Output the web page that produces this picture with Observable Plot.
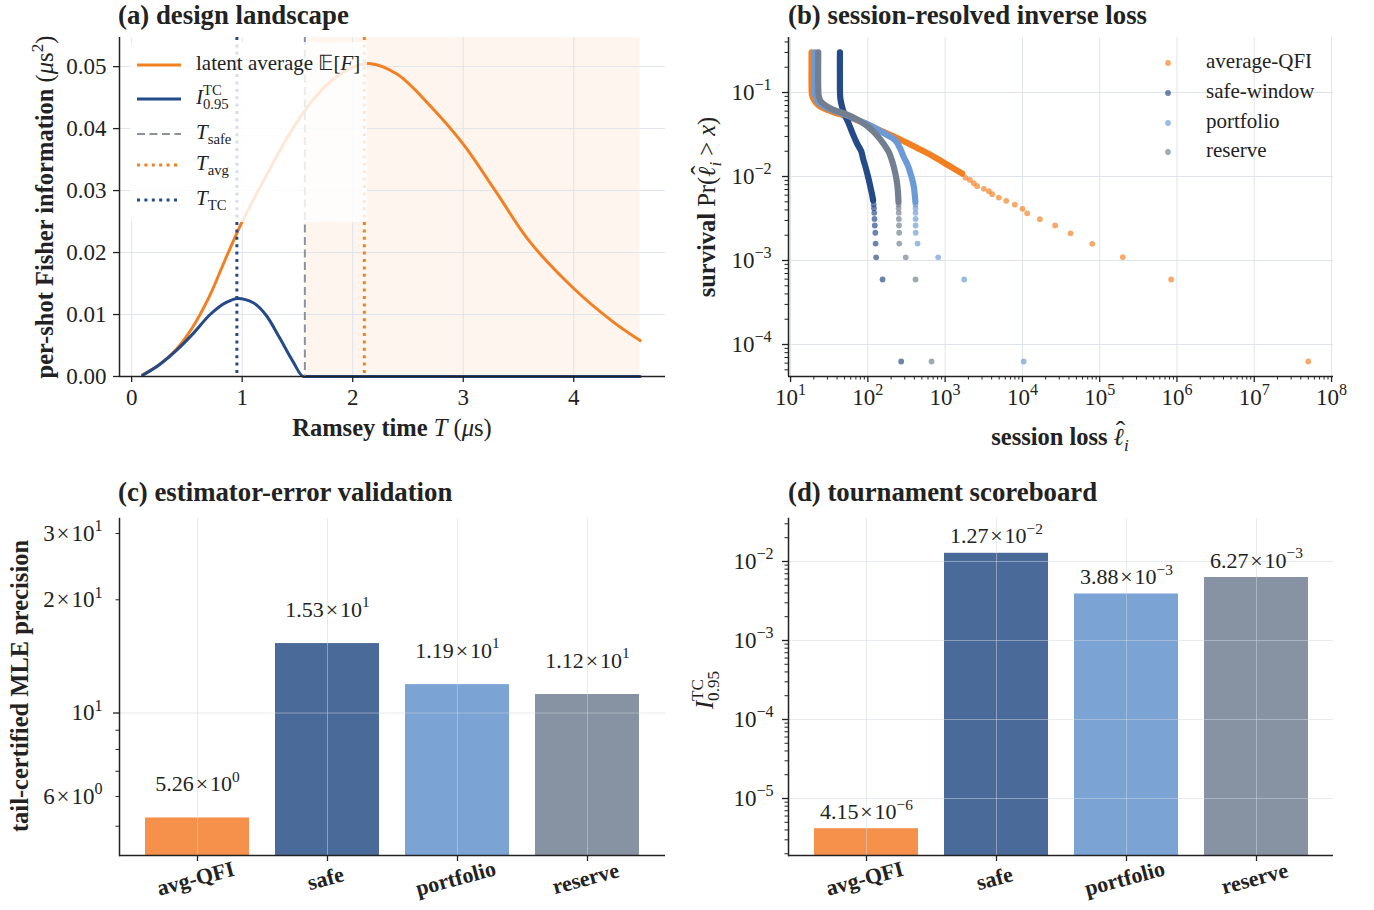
<!DOCTYPE html>
<html><head><meta charset="utf-8">
<script src="https://cdn.jsdelivr.net/npm/d3@7"></script>
<script src="https://cdn.jsdelivr.net/npm/@observablehq/plot@0.6"></script>
<style>
body{margin:0;background:#fff;}
#fig{position:relative;width:1374px;height:910px;background:#fff;overflow:hidden;font-family:'Liberation Serif','Times New Roman',serif;color:#222;}
.title{position:absolute;font-weight:bold;font-size:26.8px;line-height:1.12;white-space:nowrap;}
.panel{position:absolute;}
.panel svg{overflow:visible;}
</style></head><body><div id="fig"></div>
<script>
// ================= DATA =================
// (a) design landscape
const rampT = [0.10, 0.25, 0.40, 0.55, 0.70, 0.85, 1.00, 1.20, 1.40, 1.60, 1.80, 2.00, 2.15, 2.40, 2.70, 3.00, 3.30, 3.60, 4.00, 4.35, 4.60];
const avgF  = [0.0003, 0.0019, 0.0043, 0.0079, 0.0128, 0.0190, 0.0250, 0.0318, 0.0383, 0.0437, 0.0476, 0.0499, 0.0505, 0.0488, 0.0437, 0.0375, 0.0297, 0.0218, 0.0142, 0.0089, 0.0058];
const tcT   = [0.10, 0.25, 0.41, 0.56, 0.71, 0.86, 0.96, 1.10, 1.22, 1.34, 1.46, 1.555, 1.60, 4.60];
const tcI   = [0.0002, 0.0019, 0.0043, 0.0070, 0.0100, 0.0120, 0.0126, 0.0119, 0.0098, 0.0062, 0.0024, 0.0, 0.0, 0.0];
const markerNames = ["T_TC", "T_safe", "T_avg"];
const markerT = [0.952, 1.567, 2.105];
const aXTicks = [0, 1, 2, 3, 4];
const aYTicks = [0, 0.01, 0.02, 0.03, 0.04, 0.05];

// (b) session-resolved inverse loss (dense head drawn as thick trace, sparse tail as dots)
const bNames = ["average-QFI", "safe-window", "portfolio", "reserve"];
const qfiDenseX = [18.7, 18.7, 18.9, 20.0, 23.2, 30.0, 42.2, 60.0, 84.5, 139, 228, 375, 617, 1000, 1664];
const qfiDenseY = [0.300, 0.120, 0.095, 0.082, 0.070, 0.062, 0.0557, 0.050, 0.0443, 0.036, 0.0294, 0.0234, 0.0186, 0.0143, 0.0108];
const qfiTailX = [1836, 2090, 2351, 2600, 3170, 3680, 4065, 4955, 6170, 7980, 10030, 11530, 16800, 26500, 41900, 80000, 199000, 841000, 5.0e7];
const qfiTailY = [0.00964, 0.00912, 0.00831, 0.00767, 0.00714, 0.00669, 0.00616, 0.00562, 0.00513, 0.00464, 0.00413, 0.00365, 0.0031, 0.00261, 0.00211, 0.00158, 0.0011, 0.000594, 0.0000628];
const safeDenseX = [43.5, 43.5, 43.8, 44.5, 46.6, 50.0, 56.7, 64.0, 72.9, 82.0, 88.0, 93.5, 101, 108, 113, 117];
const safeDenseY = [0.300, 0.120, 0.090, 0.080, 0.0668, 0.055, 0.0424, 0.032, 0.0245, 0.0200, 0.0155, 0.0129, 0.0098, 0.00747, 0.0062, 0.0052];
const safeTailX = [119, 120, 121, 122, 123, 125, 126, 128, 155, 270];
const safeTailY = [0.00464, 0.0042, 0.0037, 0.00313, 0.00261, 0.00214, 0.00159, 0.00109, 0.000594, 0.0000628];
const portDenseX = [20.6, 20.6, 20.9, 22.5, 26.0, 34.0, 48.0, 75.0, 110, 160, 228, 265, 292, 330, 357, 380, 394, 405, 412];
const portDenseY = [0.300, 0.120, 0.092, 0.078, 0.070, 0.062, 0.0557, 0.047, 0.040, 0.033, 0.0268, 0.021, 0.017, 0.0135, 0.0108, 0.0088, 0.0075, 0.0060, 0.0050];
const portTailX = [413, 414, 414, 415, 415, 416, 440, 813, 1765, 10400];
const portTailY = [0.00464, 0.0042, 0.0037, 0.00313, 0.00261, 0.00214, 0.00159, 0.00109, 0.000594, 0.0000628];
const resDenseX = [22.8, 22.8, 23.1, 24.5, 28.4, 36.0, 51.4, 75.0, 103, 135, 165, 187, 205, 217, 232, 240, 246, 249];
const resDenseY = [0.300, 0.120, 0.092, 0.079, 0.070, 0.062, 0.0557, 0.047, 0.0386, 0.030, 0.0235, 0.0195, 0.0155, 0.0129, 0.0098, 0.0080, 0.0062, 0.0050];
const resTailX = [250, 250, 251, 252, 253, 254, 255, 309, 414, 667];
const resTailY = [0.00464, 0.0042, 0.0037, 0.00313, 0.00261, 0.00214, 0.00159, 0.00109, 0.000594, 0.0000628];

// (c), (d)
const strategies = ["avg-QFI", "safe", "portfolio", "reserve"];
const mlePrecision = [5.26, 15.3, 11.9, 11.2];
const itcScore = [4.15e-6, 1.27e-2, 3.88e-3, 6.27e-3];
const cLabeledTicks = [6, 10, 20, 30];

// ================= STYLE =================
const FONT = "'Liberation Serif','Times New Roman',serif";
const ORANGE = "#f28022", NAVY = "#244a87", DASHGRAY = "#8c929c", INK = "#222";
const bColors = ["#f28022", "#244a87", "#6b9bd6", "#737f90"];
const stratColors = ["#f5914a", "#4a6a9a", "#7ba3d4", "#8793a3"];
const GRID = "#dfe4eb";
const TIMES = "\u200a\u00d7\u200a";
const baseStyle = `font-family:${FONT};font-size:23px;color:${INK};overflow:visible;background:transparent;`;
const spine = {stroke: INK, strokeWidth: 1.5};
const fig = document.getElementById("fig");

function mount(svg, left, top) {
  const d = document.createElement("div");
  d.className = "panel"; d.style.left = left + "px"; d.style.top = top + "px";
  d.appendChild(svg); fig.appendChild(d); return svg;
}
function title(txt, left, top) {
  const d = document.createElement("div"); d.className = "title";
  d.style.left = left + "px"; d.style.top = top + "px"; d.textContent = txt; fig.appendChild(d);
}
const sup = s => String(s).replace("-", "\u2212");
function pow10(v) { const e = Math.round(Math.log10(v)); return "10^{" + sup(e) + "}"; }
function sci(v) {
  const e = Math.floor(Math.log10(v) + 1e-9); const m = v / Math.pow(10, e);
  return m.toFixed(2) + TIMES + "10^{" + sup(e) + "}";
}
function supify(svg) {
  const ns = "http://www.w3.org/2000/svg";
  d3.select(svg).selectAll("text").each(function () {
    const nodes = this.querySelectorAll("tspan").length ? Array.from(this.querySelectorAll("tspan")) : [this];
    for (const node of nodes) {
      const m = node.textContent.match(/^(.*)\^\{(.*)\}$/);
      if (!m) continue;
      node.textContent = "";
      const a = document.createElementNS(ns, "tspan"); a.textContent = m[1]; node.appendChild(a);
      const b = document.createElementNS(ns, "tspan"); b.textContent = m[2];
      b.setAttribute("font-size", "70%"); b.setAttribute("dy", "-0.6em"); node.appendChild(b);
    }
  });
}
function rich(parent, parts, o) {
  const size = o.size || 21;
  const t = parent.append("text")
    .attr("transform", `translate(${o.x},${o.y})${o.rotate ? ` rotate(${o.rotate})` : ""}`)
    .attr("y", 0.34 * size)
    .attr("text-anchor", o.anchor || "start")
    .attr("font-size", size).attr("fill", INK).attr("font-family", FONT)
    .style("white-space", "pre");
  let cur = 0, prev = null, pendingDx = 0;
  for (const [txt, st = ""] of parts) {
    const s = st.split(" ");
    const ts = t.append("tspan").text(txt);
    let target = 0, fs = size;
    if (s.includes("sup")) { target = -0.42 * size; fs = 0.7 * size; }
    if (s.includes("sub")) { target = 0.24 * size; fs = 0.7 * size; }
    if (s.includes("over")) { target = -0.2 * size; fs = 1.15 * size; }
    ts.attr("font-size", fs);
    if (s.includes("b")) ts.attr("font-weight", "bold");
    if (s.includes("i")) ts.attr("font-style", "italic");
    let dx = pendingDx; pendingDx = 0;
    if (s.includes("stack") && prev) dx += -prev.node().getComputedTextLength();
    if (s.includes("over") && prev) {
      const pl = prev.node().getComputedTextLength(), ml = ts.node().getComputedTextLength();
      dx += -(pl + ml) / 2 + 1.5; pendingDx = (pl - ml) / 2 - 1.5;
    }
    if (dx) ts.attr("dx", dx);
    if (target !== cur) { ts.attr("dy", target - cur); cur = target; }
    prev = ts;
  }
  return t;
}

// ================= (a) design landscape =================
const avgRows = rampT.map((t, i) => ({t, f: avgF[i]}));
const tcRows = tcT.map((t, i) => ({t, f: tcI[i]}));
const Tsafe = markerT[1], Tavg = markerT[2], Ttc = markerT[0];
const aXDom = [-0.11, 4.83], aYDom = [0, 0.0547];
const svgA = mount(Plot.plot({
  width: 680, height: 430, marginLeft: 119, marginRight: 15, marginTop: 7, marginBottom: 84,
  style: baseStyle,
  x: {domain: aXDom, label: null}, y: {domain: aYDom, label: null},
  marks: [
    Plot.rect([0], {x1: () => Tsafe, x2: () => rampT[rampT.length - 1], fill: ORANGE, fillOpacity: 0.08}),
    Plot.gridX(aXTicks, {stroke: GRID, strokeOpacity: 1}),
    Plot.gridY(aYTicks, {stroke: GRID, strokeOpacity: 1}),
    Plot.line(avgRows, {x: "t", y: "f", stroke: ORANGE, strokeWidth: 3, curve: "catmull-rom"}),
    Plot.line(tcRows, {x: "t", y: "f", stroke: NAVY, strokeWidth: 3, curve: "monotone-x"}),
    Plot.ruleX([Tsafe], {stroke: DASHGRAY, strokeWidth: 2, strokeDasharray: "8,4.5"}),
    Plot.ruleX([Tavg], {stroke: ORANGE, strokeWidth: 3, strokeDasharray: "3,4.4"}),
    Plot.ruleX([Ttc], {stroke: NAVY, strokeWidth: 3, strokeDasharray: "3,4.4"}),
    Plot.ruleX([aXDom[0]], spine),
    Plot.ruleY([0], spine),
    Plot.axisX(aXTicks, {tickSize: 6, tickPadding: 6, fontSize: 23, strokeWidth: 1.3, label: null, color: INK}),
    Plot.axisY(aYTicks, {tickSize: 6, tickPadding: 7, fontSize: 23, strokeWidth: 1.3, label: null, color: INK, tickFormat: d3.format(".2f")})
  ]
}), 0, 30);
{
  const g = d3.select(svgA).append("g");
  g.append("rect").attr("x", 130).attr("y", 12).attr("width", 237).attr("height", 180).attr("rx", 4)
    .attr("fill", "#fff").attr("fill-opacity", 0.82);
  const rows = [35, 69, 104, 135, 170];
  const styles = [
    {stroke: ORANGE, w: 3, dash: null}, {stroke: NAVY, w: 3, dash: null},
    {stroke: DASHGRAY, w: 2, dash: "8,4.5"}, {stroke: ORANGE, w: 3, dash: "3,4.4"}, {stroke: NAVY, w: 3, dash: "3,4.4"}
  ];
  styles.forEach((s, i) => {
    const l = g.append("line").attr("x1", 137).attr("x2", 181).attr("y1", rows[i]).attr("y2", rows[i])
      .attr("stroke", s.stroke).attr("stroke-width", s.w);
    if (s.dash) l.attr("stroke-dasharray", s.dash);
  });
  const labels = [
    [["latent average "], ["\u{1D53C}"], ["["], ["F", "i"], ["]"]],
    [["I", "i"], ["TC", "sup"], ["0.95", "sub stack"]],
    [["T", "i"], ["safe", "sub"]],
    [["T", "i"], ["avg", "sub"]],
    [["T", "i"], ["TC", "sub"]]
  ];
  labels.forEach((p, i) => rich(g, p, {x: 196, y: rows[i] - 2, size: 21}));
  rich(d3.select(svgA), [["Ramsey time ", "b"], ["T", "i"], [" ("], ["\u03bc", "i"], ["s)"]], {x: 392, y: 398, size: 24.5, anchor: "middle"});
  rich(d3.select(svgA), [["per-shot Fisher information ", "b"], ["("], ["\u03bc", "i"], ["s"], ["2", "sup"], [")"]], {x: 45, y: 177, size: 24.5, anchor: "middle", rotate: -90});
}
title("(a) design landscape", 118, 0);

// ================= (b) session-resolved inverse loss =================
const denseSets = [[qfiDenseX, qfiDenseY], [safeDenseX, safeDenseY], [portDenseX, portDenseY], [resDenseX, resDenseY]];
const tailSets = [[qfiTailX, qfiTailY], [safeTailX, safeTailY], [portTailX, portTailY], [resTailX, resTailY]];
const bXDom = [9.4, 1.06e8], bYDom = [4.16e-5, 0.452];
const bXMajor = d3.range(1, 9).map(k => Math.pow(10, k));
const bYMajor = [1e-4, 1e-3, 1e-2, 1e-1];
const bXMinor = [], bYMinor = [];
for (let k = 1; k <= 7; k++) for (let m = 2; m <= 9; m++) bXMinor.push(m * Math.pow(10, k));
for (let k = -5; k <= -1; k++) for (let m = 2; m <= 9; m++) { const v = m * Math.pow(10, k); if (v >= bYDom[0] && v <= bYDom[1]) bYMinor.push(v); }
const bMarks = [
  Plot.gridX(bXMajor, {stroke: GRID, strokeOpacity: 1}),
  Plot.gridY(bYMajor, {stroke: GRID, strokeOpacity: 1})
];
bNames.forEach((name, s) => {
  const dense = denseSets[s][0].map((x, i) => ({x, y: denseSets[s][1][i]}));
  const tail = tailSets[s][0].map((x, i) => ({x, y: tailSets[s][1][i]}));
  bMarks.push(Plot.line(dense, {x: "x", y: "y", stroke: bColors[s], strokeWidth: 6.2, strokeLinecap: "round", strokeLinejoin: "round", curve: "catmull-rom"}));
  bMarks.push(Plot.dot(tail, {x: "x", y: "y", r: 2.9, fill: bColors[s], fillOpacity: 0.68, stroke: "none"}));
});
bMarks.push(
  Plot.ruleX([bXDom[0]], spine),
  Plot.ruleY([bYDom[0]], spine),
  Plot.axisX(bXMajor, {tickSize: 6, tickPadding: 6, fontSize: 23, strokeWidth: 1.3, label: null, color: INK, tickFormat: pow10}),
  Plot.axisX(bXMinor, {tickSize: 3.5, strokeWidth: 1, label: null, color: INK, tickFormat: () => ""}),
  Plot.axisY(bYMajor, {tickSize: 6, tickPadding: 11, fontSize: 23, strokeWidth: 1.3, label: null, color: INK, tickFormat: pow10}),
  Plot.axisY(bYMinor, {tickSize: 3.5, strokeWidth: 1, label: null, color: INK, tickFormat: () => ""})
);
const svgB = mount(Plot.plot({
  width: 694, height: 430, marginLeft: 108, marginRight: 41, marginTop: 7, marginBottom: 84,
  style: baseStyle,
  x: {type: "log", domain: bXDom, label: null}, y: {type: "log", domain: bYDom, label: null},
  marks: bMarks
}), 680, 30);
supify(svgB);
{
  const g = d3.select(svgB).append("g");
  const rows = [33, 63, 93, 122];
  bNames.forEach((n, i) => {
    g.append("circle").attr("cx", 488).attr("cy", rows[i]).attr("r", 2.9).attr("fill", bColors[i]).attr("fill-opacity", 0.68);
    rich(g, [[n]], {x: 526, y: rows[i] - 2, size: 21});
  });
  rich(d3.select(svgB), [["session loss ", "b"], ["\u2113", "i"], ["\u02c6", "over"], ["i", "sub i"]], {x: 380, y: 407, size: 24.5, anchor: "middle"});
  rich(d3.select(svgB), [["survival ", "b"], ["Pr("], ["\u2113", "i"], ["\u02c6", "over"], ["i", "sub i"], [" > "], ["x", "i"], [")"]], {x: 27, y: 177, size: 24.5, anchor: "middle", rotate: -90});
}
title("(b) session-resolved inverse loss", 788, 0);

// ================= (c) estimator-error validation =================
const cRows = strategies.map((s, i) => ({s, v: mlePrecision[i]}));
const cYDom = [4.18, 32.9];
const cMinor = [5, 6, 7, 8, 9, 20, 30];
const fmtC = d => d === 10 ? "10^{1}" : (d < 10 ? d + TIMES + "10^{0}" : (d / 10) + TIMES + "10^{1}");
const svgC = mount(Plot.plot({
  width: 680, height: 410, marginLeft: 119, marginRight: 15, marginTop: 18, marginBottom: 55,
  style: baseStyle,
  x: {type: "band", domain: strategies, paddingInner: 0.2, paddingOuter: 0.19, label: null},
  y: {type: "log", domain: cYDom, label: null},
  color: {domain: strategies, range: stratColors},
  marks: [
    Plot.barY(cRows, {x: "s", y1: () => cYDom[0], y2: "v", fill: "s"}),
    Plot.gridX(strategies, {stroke: "#cfd6de", strokeOpacity: 0.5}),
    Plot.gridY([10], {stroke: "#cfd6de", strokeOpacity: 0.5}),
    Plot.text(cRows, {x: "s", y: "v", text: d => sci(d.v), dy: -34, fontSize: 22, fill: INK}),
    Plot.text(strategies, {x: d => d, frameAnchor: "bottom", dy: 30, rotate: -15, fontWeight: "bold", fontSize: 22, fill: INK}),
    Plot.frame({anchor: "left", stroke: INK, strokeWidth: 1.5}),
    Plot.ruleY([cYDom[0]], spine),
    Plot.axisX(strategies, {tickSize: 6, strokeWidth: 1.3, label: null, color: INK, tickFormat: () => ""}),
    Plot.axisY([10], {tickSize: 6, tickPadding: 11, fontSize: 23, strokeWidth: 1.3, label: null, color: INK, tickFormat: fmtC}),
    Plot.axisY(cMinor, {tickSize: 3.5, tickPadding: 13.5, fontSize: 23, strokeWidth: 1, label: null, color: INK, tickFormat: d => cLabeledTicks.includes(d) ? fmtC(d) : ""})
  ]
}), 0, 500);
supify(svgC);
rich(d3.select(svgC), [["tail-certified MLE precision", "b"]], {x: 20, y: 186, size: 24.5, anchor: "middle", rotate: -90});
title("(c) estimator-error validation", 118, 477);

// ================= (d) tournament scoreboard =================
const dRows = strategies.map((s, i) => ({s, v: itcScore[i]}));
const dYDom = [1.9e-6, 0.035];
const dMajor = [1e-5, 1e-4, 1e-3, 1e-2];
const dMinor = [];
for (let k = -6; k <= -2; k++) for (let m = 2; m <= 9; m++) { const v = m * Math.pow(10, k); if (v >= dYDom[0] && v <= dYDom[1]) dMinor.push(v); }
const svgD = mount(Plot.plot({
  width: 694, height: 410, marginLeft: 108, marginRight: 41, marginTop: 18, marginBottom: 55,
  style: baseStyle,
  x: {type: "band", domain: strategies, paddingInner: 0.2, paddingOuter: 0.19, label: null},
  y: {type: "log", domain: dYDom, label: null},
  color: {domain: strategies, range: stratColors},
  marks: [
    Plot.barY(dRows, {x: "s", y1: () => dYDom[0], y2: "v", fill: "s"}),
    Plot.gridX(strategies, {stroke: "#cfd6de", strokeOpacity: 0.5}),
    Plot.gridY(dMajor, {stroke: "#cfd6de", strokeOpacity: 0.5}),
    Plot.text(dRows, {x: "s", y: "v", text: d => sci(d.v), dy: -17, fontSize: 22, fill: INK}),
    Plot.text(strategies, {x: d => d, frameAnchor: "bottom", dy: 30, rotate: -15, fontWeight: "bold", fontSize: 22, fill: INK}),
    Plot.frame({anchor: "left", stroke: INK, strokeWidth: 1.5}),
    Plot.ruleY([dYDom[0]], spine),
    Plot.axisX(strategies, {tickSize: 6, strokeWidth: 1.3, label: null, color: INK, tickFormat: () => ""}),
    Plot.axisY(dMajor, {tickSize: 6, tickPadding: 9, fontSize: 23, strokeWidth: 1.3, label: null, color: INK, tickFormat: pow10}),
    Plot.axisY(dMinor, {tickSize: 3.5, strokeWidth: 1, label: null, color: INK, tickFormat: () => ""})
  ]
}), 680, 500);
supify(svgD);
rich(d3.select(svgD), [["I", "i"], ["TC", "sup"], ["0.95", "sub stack"]], {x: 25, y: 190, size: 24.5, anchor: "middle", rotate: -90});
title("(d) tournament scoreboard", 788, 477);
</script></body></html>
